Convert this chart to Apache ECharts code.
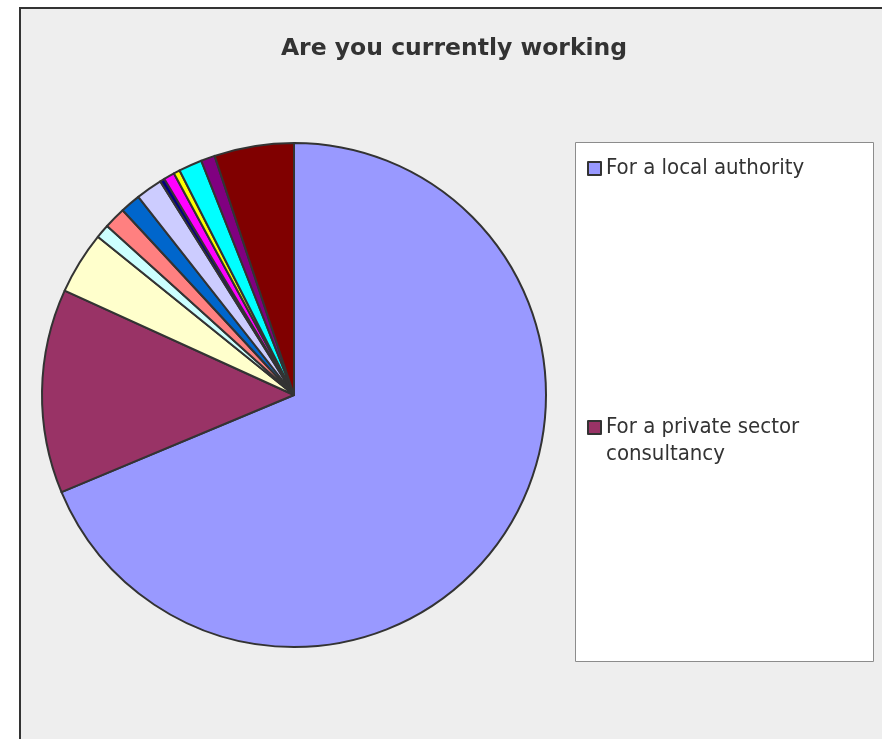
<!DOCTYPE html>
<html>
<head>
<meta charset="utf-8">
<script src="https://cdn.jsdelivr.net/npm/echarts@6/dist/echarts.min.js"></script>
<style>
  html, body { margin: 0; padding: 0; background: #ffffff; }
  #chart { width: 882px; height: 739px; }
</style>
</head>
<body>
<div id="chart"></div>
<script>
// Survey answers to "Are you currently working", share of respondents (%)
const categories = [
  'For a local authority',
  'For a private sector consultancy',
  'For central government',
  'For a national agency',
  'For a university or college',
  'For a housing association',
  'For a charity or voluntary body',
  'For a regional body',
  'For a utility company',
  'For a developer',
  'Self-employed',
  'Not currently working',
  'Other'
];
const shares = [68.7, 13.1, 4.0, 0.9, 1.4, 1.3, 1.7, 0.3, 0.7, 0.4, 1.5, 0.9, 5.1];
const sliceColors = [
  '#9999ff', '#993366', '#ffffcc', '#ccffff', '#ff8080', '#0066cc', '#ccccff',
  '#000080', '#ff00ff', '#ffff00', '#00ffff', '#800080', '#800000'
];
const legendShown = ['For a local authority', 'For a private sector consultancy'];

const FONT = "'DejaVu Sans Condensed', 'DejaVu Sans', sans-serif";
const TITLE_FONT = "'DejaVu Sans', sans-serif";
const chart = echarts.init(document.getElementById('chart'), null, { renderer: 'canvas' });

const pieData = categories.map((name, i) => ({
  name: name,
  value: shares[i],
  itemStyle: { color: sliceColors[i] }
}));

const legendBase = {
  orient: 'vertical',
  padding: 0,
  icon: 'rect', itemWidth: 13, itemHeight: 13, itemGap: 0,
  itemStyle: { borderColor: '#333333', borderWidth: 2 },
  textStyle: { fontFamily: FONT, fontSize: 22, color: '#333333', lineHeight: 27 }
};

chart.setOption({
  animation: false,
  backgroundColor: '#ffffff',
  graphic: [
    {
      type: 'rect', z: -10, silent: true,
      shape: { x: 20, y: 8, width: 900, height: 800 },
      style: { fill: '#eeeeee', stroke: '#333333', lineWidth: 2 }
    },
    {
      type: 'rect', z: -5, silent: true,
      shape: { x: 575.5, y: 142.5, width: 298, height: 519 },
      style: { fill: '#ffffff', stroke: '#8c8c8c', lineWidth: 1 }
    }
  ],
  title: {
    text: 'Are you currently working',
    left: 449,
    top: 32,
    textAlign: 'center',
    textStyle: { fontFamily: TITLE_FONT, fontSize: 23.5, fontWeight: 'bold', color: '#333333' }
  },
  legend: [
    Object.assign({}, legendBase, {
      data: [legendShown[0]],
      left: 587, top: 155
    }),
    Object.assign({}, legendBase, {
      data: [legendShown[1]],
      left: 587, top: 387,
      // blank leading line keeps the first text line level with the swatch
      formatter: () => '\nFor a private sector\nconsultancy'
    })
  ],
  series: [
    {
      type: 'pie',
      center: [294, 395],
      radius: 252,
      startAngle: 90,
      clockwise: true,
      avoidLabelOverlap: false,
      label: { show: false },
      labelLine: { show: false },
      emphasis: { disabled: true },
      itemStyle: { borderColor: '#333333', borderWidth: 2 },
      data: pieData
    }
  ]
});
</script>
</body>
</html>
